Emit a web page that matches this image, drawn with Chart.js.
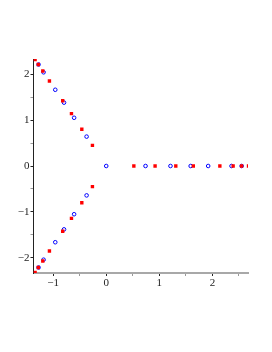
<!DOCTYPE html>
<html>
<head>
<meta charset="utf-8">
<script src="https://cdn.jsdelivr.net/npm/chart.js@4"></script>
<style>
  html, body { margin: 0; padding: 0; background: #fff; }
  #c { display: block; }
</style>
</head>
<body>
<canvas id="c" width="272" height="352"></canvas>
<script>
// データ（赤：四角、青：白抜き丸）
const redX = [-1.34, -1.28, -1.195, -1.07, -0.82, -0.655, -0.46, -0.26,
              0.52, 0.92, 1.31, 1.64, 2.14, 2.39, 2.55, 2.68,
              -1.34, -1.28, -1.195, -1.07, -0.82, -0.655, -0.46, -0.26];
const redY = [2.32, 2.21, 2.07, 1.85, 1.42, 1.14, 0.80, 0.45,
              0, 0, 0, 0, 0, 0, 0, 0,
              -2.32, -2.21, -2.07, -1.85, -1.42, -1.14, -0.80, -0.45];
const blueX = [-1.275, -1.18, -0.96, -0.795, -0.605, -0.37,
               0, 0.74, 1.21, 1.59, 1.92, 2.36, 2.55,
               -1.275, -1.18, -0.96, -0.795, -0.605, -0.37];
const blueY = [2.21, 2.04, 1.66, 1.38, 1.05, 0.64,
               0, 0, 0, 0, 0, 0, 0,
               -2.21, -2.04, -1.66, -1.38, -1.05, -0.64];

// 軸の目盛り
const xTicks = [-1, -0.5, 0, 0.5, 1, 1.5, 2, 2.5];
const yTicks = [-2, -1.5, -1, -0.5, 0, 0.5, 1, 1.5, 2];
const xRange = [-1.37, 2.67];
const yRange = [-2.33, 2.33];

const toPoints = (xs, ys) => xs.map((x, i) => ({ x: x, y: ys[i] }));
const isMajor = v => Number.isInteger(v);
const fmt = v => isMajor(v) ? String(v).replace('-', '\u2212') : '';

const tickFont = { family: 'Liberation Serif', size: 11 };

new Chart(document.getElementById('c'), {
  type: 'scatter',
  data: {
    datasets: [
      {
        label: 'blue',
        data: toPoints(blueX, blueY),
        order: 2,
        pointStyle: 'circle',
        pointRadius: 1.8,
        borderWidth: 1,
        backgroundColor: 'rgba(255,255,255,0)',
        borderColor: '#0000ff'
      },
      {
        label: 'red',
        data: toPoints(redX, redY),
        order: 1,
        pointStyle: 'rect',
        pointRadius: 2.4,
        borderWidth: 0,
        backgroundColor: '#ff0000',
        borderColor: '#ff0000'
      }
    ]
  },
  options: {
    responsive: false,
    animation: false,
    layout: { padding: { top: 59, right: 24, left: 0, bottom: 0 } },
    plugins: { legend: { display: false }, tooltip: { enabled: false } },
    scales: {
      x: {
        type: 'linear',
        min: xRange[0],
        max: xRange[1],
        afterBuildTicks: s => { s.ticks = xTicks.map(v => ({ value: v })); },
        afterFit: s => { s.height = 79; },
        border: { color: '#a8a8a8', width: 2 },
        grid: {
          drawOnChartArea: false,
          drawTicks: true,
          tickLength: 3,
          tickColor: ctx => isMajor(ctx.tick.value) ? '#222' : '#999',
          tickWidth: 1
        },
        ticks: {
          autoSkip: false,
          maxRotation: 0,
          padding: 1,
          color: '#222',
          font: tickFont,
          callback: v => fmt(v)
        }
      },
      y: {
        type: 'linear',
        min: yRange[0],
        max: yRange[1],
        afterBuildTicks: s => { s.ticks = yTicks.map(v => ({ value: v })); },
        afterFit: s => { s.width = 33.5; },
        border: { color: '#222', width: 1 },
        grid: {
          drawOnChartArea: false,
          drawTicks: true,
          tickLength: 3,
          tickColor: ctx => isMajor(ctx.tick.value) ? '#222' : '#999',
          tickWidth: 1
        },
        ticks: {
          autoSkip: false,
          padding: 1,
          color: '#222',
          font: tickFont,
          callback: v => fmt(v)
        }
      }
    }
  }
});
</script>
</body>
</html>
